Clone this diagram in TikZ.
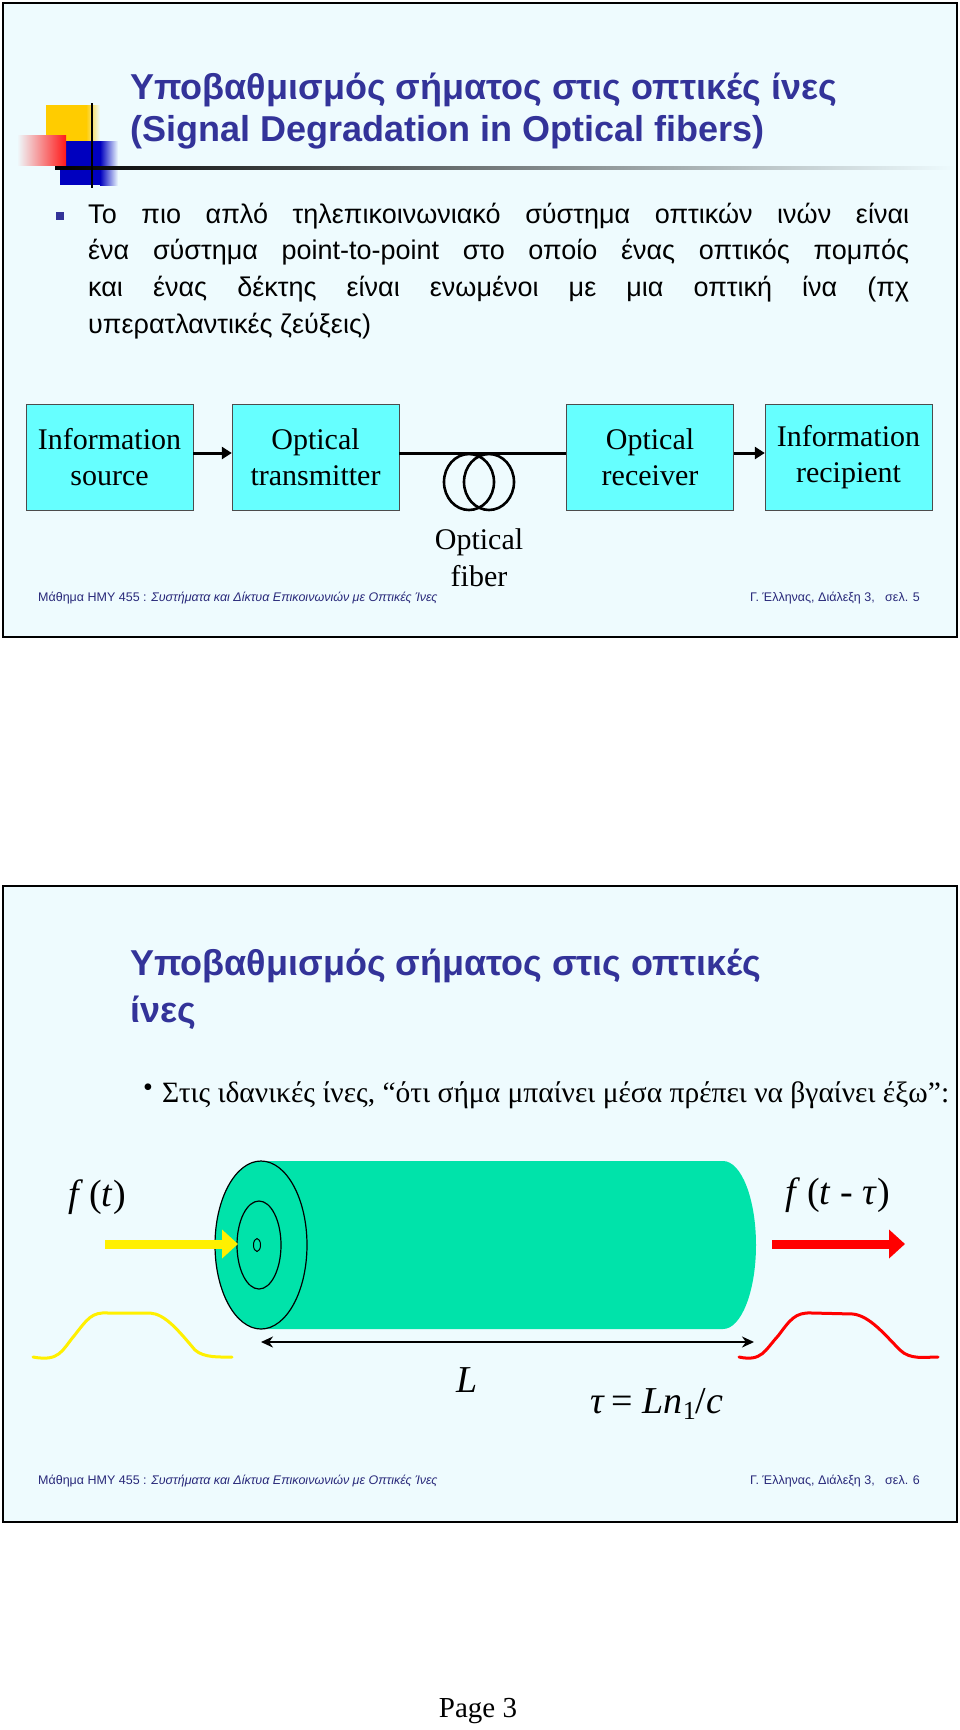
\documentclass[tikz,border=0pt]{standalone}
\usepackage{fontspec}
\setmainfont{Liberation Serif}
\setsansfont{Liberation Sans}
\usetikzlibrary{arrows.meta}
\definecolor{bgc}{RGB}{238,251,254}
\definecolor{ttl}{RGB}{51,51,153}
\definecolor{box}{RGB}{102,255,255}
\definecolor{fib}{RGB}{0,227,170}
\definecolor{ylw}{RGB}{255,240,0}
\definecolor{gold}{RGB}{255,204,0}
\tikzset{
  frame/.style={draw=black,line width=2.5pt,fill=bgc},
  ttltext/.style={anchor=west,inner sep=0pt,text=ttl,font=\sffamily\bfseries\fontsize{36}{36}\selectfont},
  stepbox/.style={draw=black!70,fill=box,minimum width=167pt,minimum height=106pt,inner sep=0pt,align=center,font=\fontsize{30}{36}\selectfont},
  foot/.style={inner sep=0pt,text=ttl!80!black,font=\sffamily\fontsize{12.5}{13}\selectfont},
  conn/.style={line width=3pt},
}
\newcommand{\decor}[1]{%
  \begin{scope}[yshift=-#1pt]
  \fill[gold] (46,105) rectangle (86,143);
  \shade[left color=gold,right color=bgc] (86,105) rectangle (100,143);
  \fill[blue!75!black] (60,141) rectangle (105,185);
  \shade[left color=blue!75!black,right color=bgc] (100,141) rectangle (118,185);
  \shade[left color=bgc,right color=red!90] (17,135) rectangle (66,165);
  \shade[left color=black,right color=bgc] (55,166.5) rectangle (955,169.5);
  \draw[line width=1.8pt] (92,103) -- (92,188);
  \end{scope}}
\begin{document}
\begin{tikzpicture}[x=1pt,y=-1pt]
\useasboundingbox (0,0) rectangle (960,1730);
\fill[white] (0,0) rectangle (960,1730);
% ---------- slide 1
\draw[frame] (3,3) rectangle (957,637);
\decor{0}
\node[ttltext] (t1a) at (130,90) {Υποβαθμισμός σήματος στις οπτικές ίνες};
\node[ttltext] (t1b) at (130,132) {(Signal Degradation in Optical fibers)};
\fill[ttl] (56,212) rectangle (64,220);
\begin{scope}[every node/.style={anchor=west,inner sep=0pt,font=\sffamily\fontsize{27}{27}\selectfont}]
\node (b1) at (88,216) {\makebox[821pt][s]{Το πιο απλό τηλεπικοινωνιακό σύστημα οπτικών ινών είναι}};
\node (b2) at (88,252) {\makebox[821pt][s]{ένα σύστημα point-to-point στο οποίο ένας οπτικός πομπός}};
\node (b3) at (88,289) {\makebox[821pt][s]{και ένας δέκτης είναι ενωμένοι με μια οπτική ίνα (πχ}};
\node (b4) at (88,326) {υπερατλαντικές ζεύξεις)};
\end{scope}
\node[stepbox] (s1) at (109.5,457) {Information\\source};
\node[stepbox] (s2) at (315.5,457) {Optical\\transmitter};
\node[stepbox] (s3) at (650,457) {Optical\\receiver};
\node[stepbox] (s4) at (848.5,457) {Information\\recipient};
\draw[conn,-{Triangle[length=10pt,width=12pt]}] (s1.east |- 0,453) -- (s2.west |- 0,453);
\draw[conn,-{Triangle[length=10pt,width=12pt]}] (s3.east |- 0,453) -- (s4.west |- 0,453);
\draw[conn] (s2.east |- 0,453) -- (s3.west |- 0,453);
\draw[line width=2.6pt] (469,482) ellipse (25 and 28);
\draw[line width=2.6pt] (489,482) ellipse (25 and 28);
\node[inner sep=0pt,align=center,font=\fontsize{30}{37}\selectfont] (ofl) at (479,558) {Optical\\fiber};
\node[foot,anchor=west] (f1l) at (38,598) {Μάθημα ΗΜΥ 455 : \textit{Συστήματα και Δίκτυα Επικοινωνιών με Οπτικές Ίνες}};
\node[foot,anchor=east] (f1r) at (920,598) {Γ. Έλληνας, Διάλεξη 3, \ \ σελ. 5};
% ---------- slide 2
\draw[frame] (3,886) rectangle (957,1522);
\decor{-883}
\node[ttltext] (t2a) at (130,966) {Υποβαθμισμός σήματος στις οπτικές};
\node[ttltext] (t2b) at (130,1013) {ίνες};
\node[inner sep=0pt,font=\fontsize{28}{28}\selectfont] (dot) at (148,1090) {•};
\node[anchor=west,inner sep=0pt,font=\fontsize{29.5}{29.5}\selectfont] (bl2) at (162,1095) {Στις ιδανικές ίνες, “ότι σήμα μπαίνει μέσα πρέπει να βγαίνει έξω”:};
% cylinder
\fill[fib] (261,1161) -- (723,1161) arc[start angle=-90,end angle=90,x radius=33,y radius=84] -- (261,1329) -- cycle;
\draw[line width=1.2pt,fill=fib] (261,1245) ellipse (46 and 84);
\draw[line width=1.2pt] (259,1245) ellipse (22 and 44);
\draw[line width=1pt] (257,1245) ellipse (3.5 and 6.5);
\draw[ylw,line width=9pt,-{Triangle[length=16pt,width=28pt]}] (105,1244) -- (238,1244);
\draw[red,line width=9pt,-{Triangle[length=16pt,width=28pt]}] (772,1244) -- (905,1244);
\node[font=\fontsize{38}{38}\selectfont,inner sep=0pt] (ft) at (97,1197) {\textit{f}\,(\textit{t})};
\node[font=\fontsize{38}{38}\selectfont,inner sep=0pt] (ftt) at (838,1195) {\textit{f}\,(\textit{t} - \textit{τ})};
\draw[ylw,line width=3pt,line cap=round] (33,1357) .. controls (60,1362) and (62,1350) .. (74,1336) .. controls (88,1318) and (92,1312) .. (108,1313) -- (150,1313) .. controls (165,1314) and (178,1330) .. (195,1350) .. controls (204,1358) and (220,1357) .. (232,1357);
\draw[red,line width=3pt,line cap=round] (739,1357) .. controls (762,1362) and (765,1350) .. (778,1336) .. controls (790,1320) and (795,1312) .. (812,1313) -- (853,1314) .. controls (870,1316) and (885,1335) .. (900,1350) .. controls (910,1360) and (925,1357) .. (938,1357);
\coordinate (La) at (261,1342);
\coordinate (Lb) at (754,1342);
\draw[line width=2.5pt,{Stealth[length=12pt,width=11pt]}-{Stealth[length=12pt,width=11pt]}] (La) -- (Lb);
\node[font=\itshape\fontsize{38}{38}\selectfont,inner sep=0pt] (Ll) at (467,1380) {L};
\node[font=\fontsize{38}{38}\selectfont,inner sep=0pt] (tau) at (657,1404) {\textit{τ}\,= \textit{Ln}\raisebox{-6pt}{\fontsize{26}{26}\selectfont 1}/\textit{c}};
\node[foot,anchor=west] (f2l) at (38,1481) {Μάθημα ΗΜΥ 455 : \textit{Συστήματα και Δίκτυα Επικοινωνιών με Οπτικές Ίνες}};
\node[foot,anchor=east] (f2r) at (920,1481) {Γ. Έλληνας, Διάλεξη 3, \ \ σελ. 6};
\node[font=\fontsize{29}{29}\selectfont,inner sep=0pt] (pg) at (478,1711) {Page 3};
\end{tikzpicture}
\end{document}
